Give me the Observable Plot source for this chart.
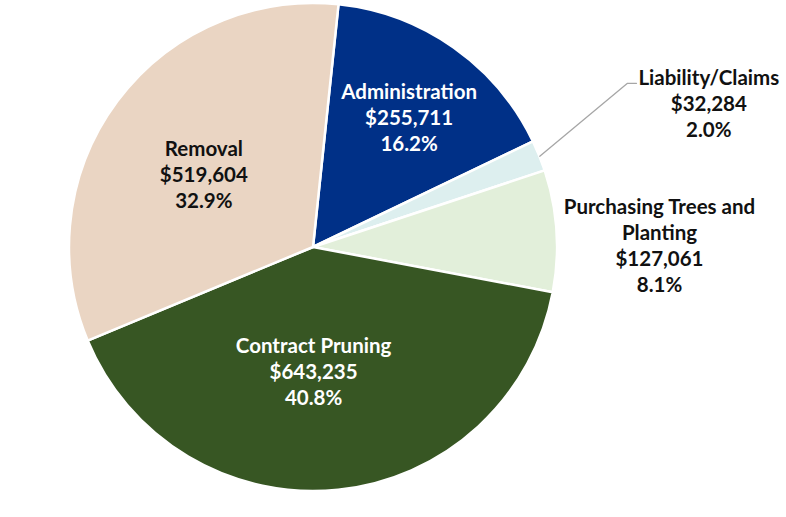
<!DOCTYPE html>
<html>
<head>
<meta charset="utf-8">
<script src="https://cdn.jsdelivr.net/npm/d3@7"></script>
<script src="https://cdn.jsdelivr.net/npm/@observablehq/plot@0.6"></script>
<style>
  html, body { margin: 0; padding: 0; background: #fff; }
  #chart svg { display: block; }
</style>
</head>
<body>
<div id="chart"></div>
<script>
// ---- data ----
const categories = ["Administration", "Liability/Claims", "Purchasing Trees and\nPlanting", "Contract Pruning", "Removal"];
const amounts = [255711, 32284, 127061, 643235, 519604];
const amountLabels = ["$255,711", "$32,284", "$127,061", "$643,235", "$519,604"];
const percentLabels = ["16.2%", "2.0%", "8.1%", "40.8%", "32.9%"];

// ---- styles ----
const sliceColors = ["#003087", "#DDEFEF", "#E2EFDA", "#375623", "#EAD5C3"];
const textColors = ["#ffffff", "#111111", "#111111", "#ffffff", "#111111"];
// label placement (polar: radius factor, angle offset in degrees from slice mid-angle)
const labelPlacement = [
  {r: 0.664, da: 1.0},
  {r: 1.726, da: 1.8},
  {r: 1.418, da: 3.4},
  {r: 0.505, da: 5.9},
  {r: 0.541, da: -2.9}
];
const startDeg = 6;

const rows = categories.map((c, i) => ({
  category: c, amount: amounts[i], amountLabel: amountLabels[i], pct: percentLabels[i],
  color: sliceColors[i], textColor: textColors[i], place: labelPlacement[i]
}));

const rad = Math.PI / 180;
const arcs = d3.pie().sort(null).value(d => d.amount)
  .startAngle(startDeg * rad).endAngle(startDeg * rad + 2 * Math.PI)(rows);

const polar = (angleRad, r) => ({x: r * Math.sin(angleRad), y: r * Math.cos(angleRad)});

const labels = arcs.map(a => {
  const mid = (a.startAngle + a.endAngle) / 2 + a.data.place.da * rad;
  const p = polar(mid, a.data.place.r);
  return {x: p.x, y: p.y, text: `${a.data.category}\n${a.data.amountLabel}\n${a.data.pct}`, fill: a.data.textColor};
});

// leader line for Liability/Claims
const liab = arcs[1];
const liabMid = (liab.startAngle + liab.endAngle) / 2;
const p0 = polar(liabMid, 1.0);
const p1 = polar(62.4 * rad, 1.452);
const leader = [p0, p1, {x: p1.x + 0.037, y: p1.y}];

// pixel frame
const W = 786, H = 517, CX = 313, CY = 247, R = 244;

function pieMark(index, scales, values, dimensions) {
  const cx = scales.x(0), cy = scales.y(0), r = scales.x(1) - scales.x(0);
  const g = d3.create("svg:g").attr("transform", `translate(${cx},${cy})`);
  const arcGen = d3.arc().innerRadius(0).outerRadius(r);
  g.selectAll("path").data(arcs).join("path")
    .attr("d", arcGen)
    .attr("fill", d => d.data.color)
    .attr("stroke", "#ffffff")
    .attr("stroke-width", 2.5)
    .attr("stroke-linejoin", "round");
  return g.node();
}

const chart = Plot.plot({
  width: W,
  height: H,
  margin: 0,
  x: {domain: [-CX / R, (W - CX) / R], axis: null},
  y: {domain: [-(H - CY) / R, CY / R], axis: null},
  style: {fontFamily: "Lato, 'Open Sans', sans-serif", background: "#fff"},
  marks: [
    pieMark,
    Plot.line(leader, {x: "x", y: "y", stroke: "#A6A6A6", strokeWidth: 1.3}),
    Plot.text(labels, {
      x: "x", y: "y", text: "text", fill: "fill",
      fontSize: 20.5, fontWeight: "bold", lineHeight: 1.27,
      textAnchor: "middle", lineAnchor: "middle"
    })
  ]
});
document.getElementById("chart").appendChild(chart);
</script>
</body>
</html>
